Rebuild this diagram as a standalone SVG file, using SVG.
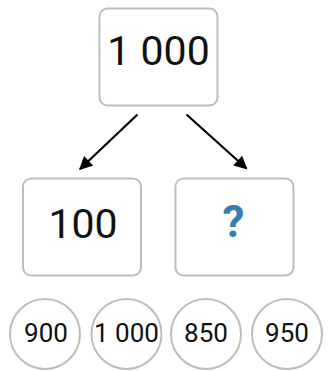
<svg xmlns="http://www.w3.org/2000/svg" width="329" height="371" viewBox="0 0 329 371">
<style>
.box{fill:#fff;stroke:#bdbdbd;stroke-width:2}
.num{font-family:Roboto,"Liberation Sans",sans-serif;fill:#111;text-anchor:middle}
.big{font-size:41px}
.small{font-size:26px}
.q{font-family:Roboto,"Liberation Sans",sans-serif;font-weight:bold;font-size:44px;fill:#3a7bb0;text-anchor:middle}
.edge{stroke:#000;stroke-width:2.2;fill:none}
</style>
<defs>
<marker id="ah" viewBox="0 0 10 10" refX="9" refY="5" markerWidth="6.5" markerHeight="6" orient="auto" markerUnits="strokeWidth">
<path d="M0,0 L10,5 L0,10 Z" fill="#000"/>
</marker>
</defs>
<g id="connectors">
<line class="edge" x1="137.5" y1="114.5" x2="80" y2="169" marker-end="url(#ah)"/>
<line class="edge" x1="186.5" y1="114.5" x2="246.5" y2="168.5" marker-end="url(#ah)"/>
</g>
<g id="top">
<rect class="box" x="99.5" y="8.5" width="118" height="97" rx="8"/>
<text class="num big" x="158.5" y="65">1 000</text>
</g>
<g id="left">
<rect class="box" x="23" y="178.5" width="118" height="97" rx="8"/>
<text class="num big" x="83" y="238">100</text>
</g>
<g id="right">
<rect class="box" x="175.5" y="178.5" width="118" height="97" rx="8"/>
<text class="q" x="233.5" y="237">?</text>
</g>
<g id="opt1">
<circle class="box" cx="45" cy="334" r="35"/>
<text class="num small" x="46" y="342">900</text>
</g>
<g id="opt2">
<circle class="box" cx="126.5" cy="334" r="35"/>
<text class="num small" x="126.5" y="342">1 000</text>
</g>
<g id="opt3">
<circle class="box" cx="206" cy="334" r="35"/>
<text class="num small" x="206" y="342">850</text>
</g>
<g id="opt4">
<circle class="box" cx="287" cy="334" r="35"/>
<text class="num small" x="287" y="342">950</text>
</g>
</svg>
